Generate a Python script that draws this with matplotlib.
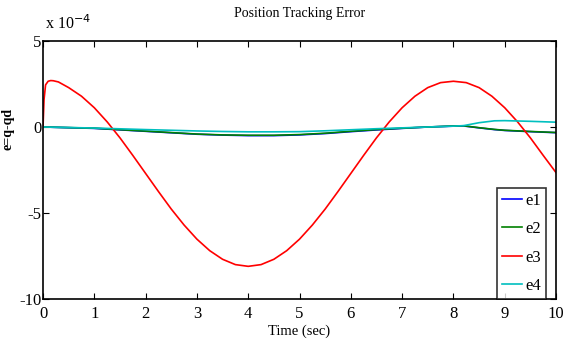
import matplotlib
matplotlib.use("Agg")
import matplotlib.pyplot as plt

plt.rcParams['font.family'] = ['Liberation Serif', 'DejaVu Serif']
plt.rcParams['axes.unicode_minus'] = False

# Time samples (s) and errors (units of 1e-4)
t3 = [0, 0.02, 0.05, 0.1, 0.15, 0.2, 0.3, 0.5, 0.75, 1.0, 1.25, 1.5, 1.75, 2.0, 2.25, 2.5, 2.75,
      3.0, 3.25, 3.5, 3.75, 4.0, 4.25, 4.5, 4.75, 5.0, 5.25, 5.5, 5.75, 6.0, 6.25, 6.5, 6.75,
      7.0, 7.25, 7.5, 7.75, 8.0, 8.25, 8.5, 8.75, 9.0, 9.25, 9.5, 9.75, 10.0]
e3 = [0, 1.6, 2.45, 2.66, 2.7, 2.69, 2.62, 2.29, 1.79, 1.12, 0.30, -0.63, -1.65, -2.7, -3.75, -4.77, -5.70,
      -6.52, -7.19, -7.69, -8.0, -8.1, -8.0, -7.69, -7.19, -6.52, -5.70, -4.77, -3.75, -2.7, -1.65, -0.63, 0.30,
      1.12, 1.79, 2.29, 2.58, 2.66, 2.58, 2.29, 1.79, 1.12, 0.30, -0.63, -1.65, -2.65]

t_s = [0, 1.0, 2.0, 3.0, 3.5, 4.0, 4.5, 5.0, 5.5, 6.0, 6.5, 7.0, 7.5, 8.0, 8.2, 8.5, 8.8, 9.0, 9.5, 10.0]
e1 = [0, -0.08, -0.25, -0.42, -0.47, -0.5, -0.5, -0.46, -0.38, -0.27, -0.17, -0.08, 0.0, 0.05, 0.06, -0.05, -0.15, -0.2, -0.27, -0.33]
e2 = [0, -0.07, -0.24, -0.41, -0.46, -0.48, -0.48, -0.44, -0.36, -0.25, -0.15, -0.07, 0.0, 0.06, 0.07, -0.04, -0.14, -0.19, -0.26, -0.32]
e4 = [0, -0.06, -0.15, -0.23, -0.26, -0.28, -0.28, -0.27, -0.22, -0.16, -0.1, -0.05, 0.0, 0.05, 0.08, 0.25, 0.36, 0.37, 0.33, 0.28]

fig = plt.figure(figsize=(5.63, 3.46), dpi=100)
ax = fig.add_axes([0.0764, 0.1358, 0.9112, 0.7457])
ax.plot(t_s, e1, color='#0000ff', lw=1.2, label='e1')
ax.plot(t_s, e2, color='#008000', lw=1.2, label='e2')
ax.plot(t3, e3, color='#ff0000', lw=1.2, label='e3')
ax.plot(t_s, e4, color='#00bfbf', lw=1.2, label='e4')

ax.set_xlim(0, 10)
ax.set_ylim(-10, 5)
ax.set_xticks(range(0, 11))
ax.set_yticks([-10, -5, 0, 5])
ax.tick_params(direction='in', top=True, right=True, labelsize=12, length=4, width=0.8)
ax.tick_params(axis='x', pad=5)
ax.tick_params(axis='y', pad=1)
for s in ax.spines.values():
    s.set_linewidth(1.2)

ax.set_title('Position Tracking Error', fontsize=10, pad=17)
ax.set_xlabel('Time (sec)', fontsize=10.5, labelpad=2)
ax.set_ylabel('e=q-qd', fontsize=10, fontweight='bold')
ax.yaxis.set_label_coords(-0.055, 0.66)
ax.text(0.003, 1.03, r'x 10$^{-4}$', transform=ax.transAxes, fontsize=11.5, ha='left', va='bottom')

leg = ax.legend(loc='lower right', bbox_to_anchor=(0.98, 0.0), fontsize=12, frameon=True, fancybox=False,
                edgecolor='black', handlelength=1.2, handletextpad=0.2, borderpad=0.3, labelspacing=0.75,
                borderaxespad=0)
leg.get_frame().set_linewidth(1.2)

fig.savefig('out.png', dpi=100)
